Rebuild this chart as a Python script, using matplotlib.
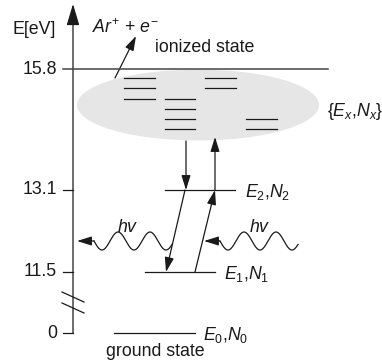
import numpy as np
import matplotlib.pyplot as plt
from matplotlib.patches import Ellipse, FancyArrowPatch

plt.rcParams['font.family'] = ['Liberation Sans', 'DejaVu Sans']
plt.rcParams['mathtext.fontset'] = 'custom'
plt.rcParams['mathtext.rm'] = 'Liberation Sans'
plt.rcParams['mathtext.it'] = 'Liberation Sans:italic'

# energies marked on the (broken) axis, in eV
tick_values = [0, 11.5, 13.1, 15.8]
tick_labels = ['0', '11.5', '13.1', '15.8']

# the three discrete levels
level_energy = [0, 11.5, 13.1]
level_names = [r'$\mathit{E_0{,}N_0}$', r'$\mathit{E_1{,}N_1}$', r'$\mathit{E_2{,}N_2}$']

# --- layout (canvas in pixels, y pointing down) ---
tick_pos = [333, 272, 190, 69]      # schematic height of each marked energy
level_x = [(114, 195), (145, 215), (165, 235)]
level_lab_x = [203, 224, 245]
ax_x = 73
ink = '#1a1a1a'
lw = 0.9
fs = 12.8


def ey(e):
    return np.interp(e, tick_values, tick_pos)


def arrow(ax, p0, p1, hl=0.8, hw=0.25, ms=11):
    a = FancyArrowPatch(p0, p1, arrowstyle='-|>,head_length=%g,head_width=%g' % (hl, hw),
                        mutation_scale=ms, color=ink, lw=lw, shrinkA=0, shrinkB=0)
    ax.add_patch(a)


fig = plt.figure(figsize=(3.82, 3.62), dpi=100)
ax = fig.add_axes([0, 0, 1, 1])
ax.set_xlim(0, 382)
ax.set_ylim(362, 0)
ax.axis('off')

# cloud of highly excited states
ax.add_patch(Ellipse((198, 105), 242, 71, color='#e6e6e6', lw=0, zorder=0))
groups = [((124, 155), [78, 88, 99]),
          ((165, 195), [99, 109, 119, 129]),
          ((205, 236), [78, 88]),
          ((246, 277), [119, 129])]
for (x0, x1), ys in groups:
    for y in ys:
        ax.plot([x0, x1], [y, y], color=ink, lw=lw)

# energy axis with ticks
arrow(ax, (ax_x, ey(0)), (ax_x, 4), hl=1.1, hw=0.33, ms=12)
for v, lab in zip(tick_values, tick_labels):
    y = ey(v)
    x1 = 328 if v == 15.8 else ax_x
    ax.plot([63, x1], [y, y], color='#444444' if v == 15.8 else ink, lw=lw + 0.2 if v == 15.8 else lw)
    ax.text(57, y, lab, ha='right', va='center', fontsize=fs, color=ink)
ax.text(56, 29, 'E[eV]', ha='right', va='center', fontsize=fs, color=ink)

# axis break
for dy in (0, 11):
    ax.plot([62, 84], [292 + dy, 302 + dy], color=ink, lw=lw)

# discrete levels
for e, (x0, x1), lx, name in zip(level_energy, level_x, level_lab_x, level_names):
    y = ey(e)
    ax.plot([x0, x1], [y, y], color=ink, lw=lw)
    ax.text(lx, y + 2, name, ha='left', va='center', fontsize=fs, color=ink)

ax.text(155, 352, 'ground state', ha='center', va='center', fontsize=fs, color=ink)
ax.text(155, 48, 'ionized state', ha='left', va='center', fontsize=fs, color=ink)
ax.text(327, 112, r'$\mathit{\{E_x{,}N_x\}}$', ha='left', va='center', fontsize=fs, color=ink)
ax.text(92, 28, r'$\mathit{Ar}^{+}$ + $\mathit{e}^{-}$', ha='left', va='center', fontsize=fs, color=ink)
arrow(ax, (115, 78), (136, 36))

# transitions
arrow(ax, (186, 141), (186, ey(13.1)))
arrow(ax, (215, ey(13.1)), (215, 137))
arrow(ax, (185, ey(13.1)), (166, ey(11.5)))
arrow(ax, (195, ey(11.5)), (215, ey(13.1)))

# photons
for xs, xe, tip, lx in [(94, 172, 77, 128), (220, 298, 204, 260)]:
    x = np.linspace(xs, xe, 300)
    ax.plot(x, 241 + 9 * np.sin(2 * np.pi * (x - xs) / 32), color=ink, lw=lw)
    arrow(ax, (xs, 241), (tip, 241))
    ax.text(lx, 227, r'$\mathit{hv}$', ha='center', va='center', fontsize=fs, color=ink)

fig.savefig('out.png', dpi=100)
